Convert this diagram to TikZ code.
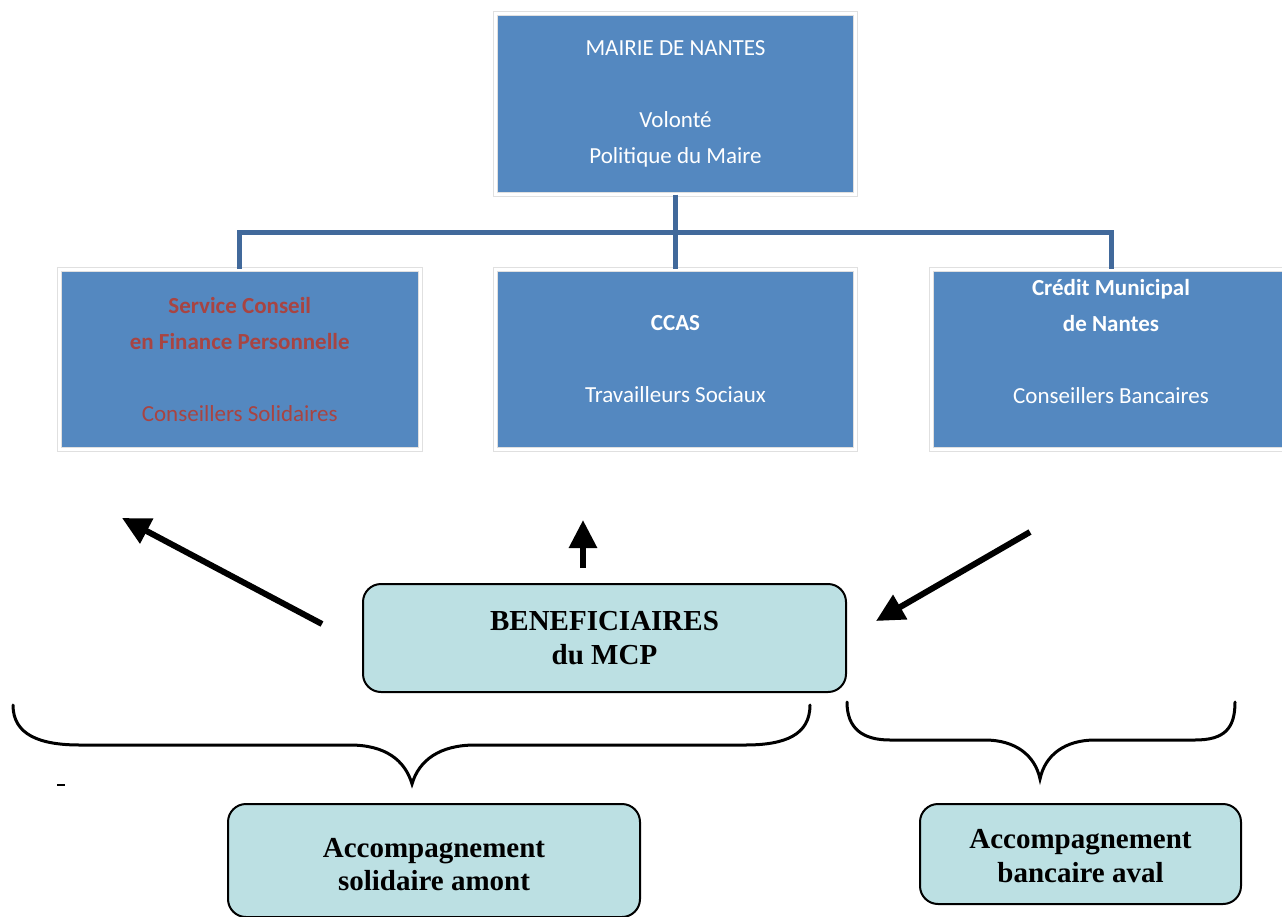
\documentclass[tikz,border=0pt]{standalone}
\usepackage{fontspec}
\setmainfont{Liberation Serif}
\newfontfamily\calfont{Carlito}
\usetikzlibrary{arrows.meta}
\definecolor{boxblue}{HTML}{5488C0}
\definecolor{connblue}{HTML}{41699B}
\definecolor{teal}{HTML}{BCE0E3}
\definecolor{redtxt}{HTML}{A84442}
\tikzset{
  bluebox/.style={rectangle, fill=boxblue, draw=black!12, line width=1pt, double=white, double distance=3pt,
    align=center, inner sep=0pt, text=white, font=\calfont\fontsize{23}{36}\selectfont},
  tealbox/.style={rectangle, rounded corners=18pt, fill=teal, draw=black, line width=2pt,
    align=center, inner sep=0pt, font=\bfseries\fontsize{29}{34}\selectfont},
  conn/.style={draw=connblue, line width=5pt},
  bigarrow/.style={line width=6pt, -{Triangle[length=28pt,width=27pt]}},
  bracestyle/.style={line width=3pt, line cap=round}
}
\begin{document}
\begin{tikzpicture}[x=1pt,y=-1pt]
\useasboundingbox (0,0) rectangle (1282,916);
\fill[white] (0,0) rectangle (1282,916);

% blue boxes
\node[bluebox, minimum width=360pt, minimum height=181pt] (top) at (675.5,103.5)
  {MAIRIE DE NANTES\\ \mbox{}\\ Volonté\\ Politique du Maire};
\node[bluebox, minimum width=360.5pt, minimum height=180pt, text=redtxt] (left) at (239.75,359.5)
  {\bfseries Service Conseil\\ \bfseries en Finance Personnelle\\ \mbox{}\\ Conseillers Solidaires};
\node[bluebox, minimum width=360pt, minimum height=180pt] (mid) at (675.5,359.5)
  {\bfseries CCAS\\ \mbox{}\\ Travailleurs Sociaux};
\node[bluebox, minimum width=360pt, minimum height=180pt] (right) at (1111,359.5)
  {\bfseries Crédit Municipal\\ \bfseries de Nantes\\ \mbox{}\\ Conseillers Bancaires\\ \mbox{}};

% org connectors
\coordinate (bus) at (675.5,232.5);
\draw[conn] (top.south) -- (mid.north);
\draw[conn] (left.north) |- (bus) -| (right.north);

% teal boxes
\node[tealbox, minimum width=483pt, minimum height=108pt] (bene) at (604.5,638)
  {BENEFICIAIRES\\ du MCP};
\node[tealbox, minimum width=412pt, minimum height=113pt] (amont) at (434,860.5)
  {\raisebox{-4pt}[\height][\depth]{\shortstack{Accompagnement\\[4pt] solidaire amont}}};
\node[tealbox, minimum width=321pt, minimum height=100pt] (aval) at (1080.5,854)
  {\raisebox{-2pt}[\height][\depth]{\shortstack{Accompagnement\\[4pt] bancaire aval}}};

% arrows
\coordinate (a1s) at (322,624);
\coordinate (a1e) at (122,518);
\coordinate (a2s) at (583,568);
\coordinate (a2e) at (583,520);
\coordinate (a3s) at (1030,532);
\coordinate (a3e) at (876,621);
\draw[bigarrow] (a1s) -- (a1e);
\draw[bigarrow] (a2s) -- (a2e);
\draw[bigarrow] (a3s) -- (a3e);

% braces
\draw[bracestyle] (13,705) .. controls (13,735) and (40,745) .. (80,745) -- (350,745)
  .. controls (385,745) and (405,760) .. (412,784)
  .. controls (419,760) and (440,745) .. (475,745) -- (745,745)
  .. controls (785,745) and (810,735) .. (810,705);
\draw[bracestyle] (847,702) .. controls (847,728) and (862,740) .. (890,740) -- (985,740)
  .. controls (1015,740) and (1035,755) .. (1040,779)
  .. controls (1045,755) and (1065,740) .. (1095,740) -- (1195,740)
  .. controls (1225,740) and (1235,728) .. (1235,702);

% stray dash
\node[inner sep=0pt] (dash) at (61,785) {\rule{8pt}{1.6pt}};
\end{tikzpicture}
\end{document}
